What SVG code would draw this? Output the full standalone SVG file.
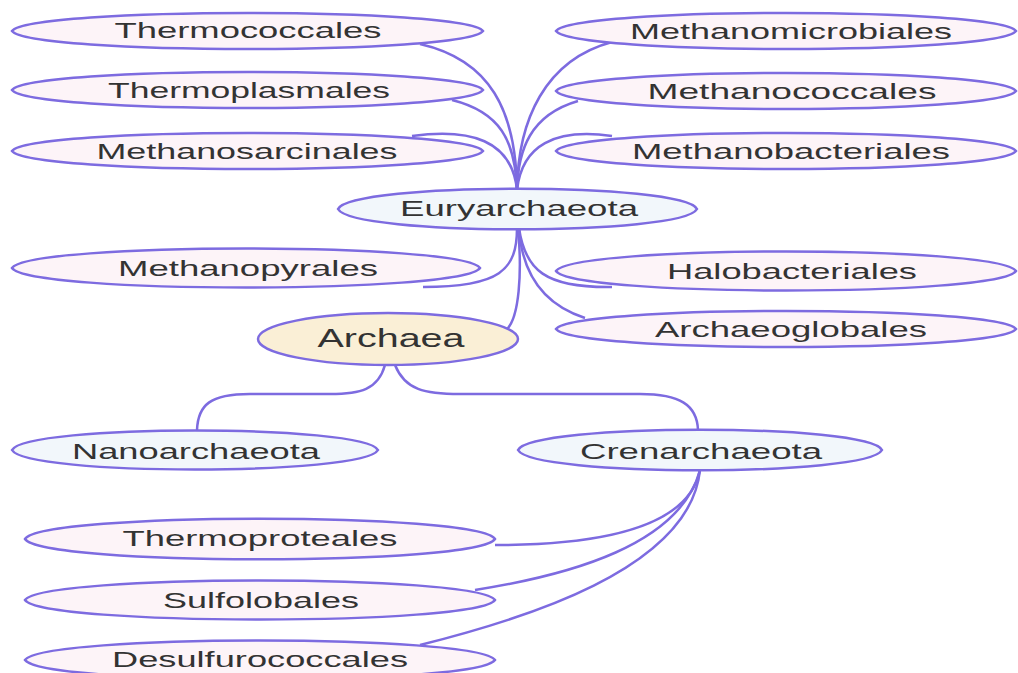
<svg xmlns="http://www.w3.org/2000/svg" width="1018" height="673" viewBox="0 0 1018 673">
<style>
.n{stroke:#7d6be0;stroke-width:2.5}
.leaf{fill:#fdf4f8}
.mid{fill:#f2f7fb}
.root{fill:#faefd6}
text{font-family:"Liberation Sans",Arial,sans-serif;font-size:22px;fill:#333;text-anchor:middle}
.c path{fill:none;stroke:#7d6be0;stroke-width:2.5}
</style>
<rect width="1018" height="673" fill="#fff"/>
<g class="c" id="connectors">
<path d="M420,44 C490,60 516,110 517,190"/>
<path d="M452,100 C500,112 515,140 517,190"/>
<path d="M412,136 C470,128 512,140 517,190"/>
<path d="M612,42 C545,60 518,120 517,190"/>
<path d="M578,101 C530,115 518,150 517,190"/>
<path d="M612,136 C555,128 522,145 517,190"/>
<path d="M517,228 C517,270 500,287 423,287"/>
<path d="M519,228 C525,270 545,288 612,287"/>
<path d="M519,228 C522,275 545,305 585,318"/>
<path d="M518,228 C522,270 520,320 505,331"/>
<path d="M385,365 C378,390 360,394 330,394 L250,394 C210,394 198,405 197,430"/>
<path d="M395,365 C405,390 425,394 460,394 L640,394 C680,394 697,405 698,430"/>
<path d="M700,470 C690,520 620,545 495,545"/>
<path d="M700,470 C680,545 570,575 475,590"/>
<path d="M700,470 C690,570 520,620 420,645"/>
</g>
<g id="thermococcales"><path class="n leaf" d="M12,31 C30,7 465,7 483,31 C465,55 30,55 12,31 Z"/><text x="248" y="38" textLength="267" lengthAdjust="spacingAndGlyphs">Thermococcales</text></g>
<g id="thermoplasmales"><path class="n leaf" d="M12,90 C30,66 465,66 483,90 C465,114 30,114 12,90 Z"/><text x="249" y="98" textLength="282" lengthAdjust="spacingAndGlyphs">Thermoplasmales</text></g>
<g id="methanosarcinales"><path class="n leaf" d="M12,151 C30,127 465,127 483,151 C465,175 30,175 12,151 Z"/><text x="247" y="159" textLength="301" lengthAdjust="spacingAndGlyphs">Methanosarcinales</text></g>
<g id="methanomicrobiales"><path class="n leaf" d="M556,31 C574,7 998,7 1016,31 C998,55 574,55 556,31 Z"/><text x="791" y="39" textLength="322" lengthAdjust="spacingAndGlyphs">Methanomicrobiales</text></g>
<g id="methanococcales"><path class="n leaf" d="M556,91 C574,67 998,67 1016,91 C998,115 574,115 556,91 Z"/><text x="792" y="99" textLength="289" lengthAdjust="spacingAndGlyphs">Methanococcales</text></g>
<g id="methanobacteriales"><path class="n leaf" d="M556,151 C574,127 998,127 1016,151 C998,175 574,175 556,151 Z"/><text x="791" y="159" textLength="318" lengthAdjust="spacingAndGlyphs">Methanobacteriales</text></g>
<g id="euryarchaeota"><path class="n mid" d="M338,209 C352,182 683,182 697,209 C683,236 352,236 338,209 Z"/><text x="519" y="216" textLength="238" lengthAdjust="spacingAndGlyphs">Euryarchaeota</text></g>
<g id="methanopyrales"><path class="n leaf" d="M12,268 C30,242 462,242 480,268 C462,294 30,294 12,268 Z"/><text x="248" y="276" textLength="260" lengthAdjust="spacingAndGlyphs">Methanopyrales</text></g>
<g id="halobacteriales"><path class="n leaf" d="M556,271 C574,245 998,245 1016,271 C998,297 574,297 556,271 Z"/><text x="792" y="279" textLength="250" lengthAdjust="spacingAndGlyphs">Halobacteriales</text></g>
<g id="archaeoglobales"><path class="n leaf" d="M556,329 C574,305 998,305 1016,329 C998,353 574,353 556,329 Z"/><text x="791" y="337" textLength="272" lengthAdjust="spacingAndGlyphs">Archaeoglobales</text></g>
<g id="archaea"><ellipse class="n root" cx="388" cy="339" rx="130" ry="26"/><text x="391" y="347" style="font-size:26px" textLength="147" lengthAdjust="spacingAndGlyphs">Archaea</text></g>
<g id="nanoarchaeota"><path class="n mid" d="M12,450 C26,424 364,424 378,450 C364,476 26,476 12,450 Z"/><text x="196" y="459" textLength="248" lengthAdjust="spacingAndGlyphs">Nanoarchaeota</text></g>
<g id="crenarchaeota"><path class="n mid" d="M518,450 C532,423 868,423 882,450 C868,477 532,477 518,450 Z"/><text x="701" y="459" textLength="242" lengthAdjust="spacingAndGlyphs">Crenarchaeota</text></g>
<g id="thermoproteales"><path class="n leaf" d="M25,539 C43,512 477,512 495,539 C477,566 43,566 25,539 Z"/><text x="260" y="546" textLength="275" lengthAdjust="spacingAndGlyphs">Thermoproteales</text></g>
<g id="sulfolobales"><path class="n leaf" d="M25,600 C43,574 477,574 495,600 C477,626 43,626 25,600 Z"/><text x="261" y="608" textLength="196" lengthAdjust="spacingAndGlyphs">Sulfolobales</text></g>
<g id="desulfurococcales"><path class="n leaf" d="M25,660 C43,634 477,634 495,660 C477,686 43,686 25,660 Z"/><text x="260" y="667" textLength="296" lengthAdjust="spacingAndGlyphs">Desulfurococcales</text></g>
</svg>
